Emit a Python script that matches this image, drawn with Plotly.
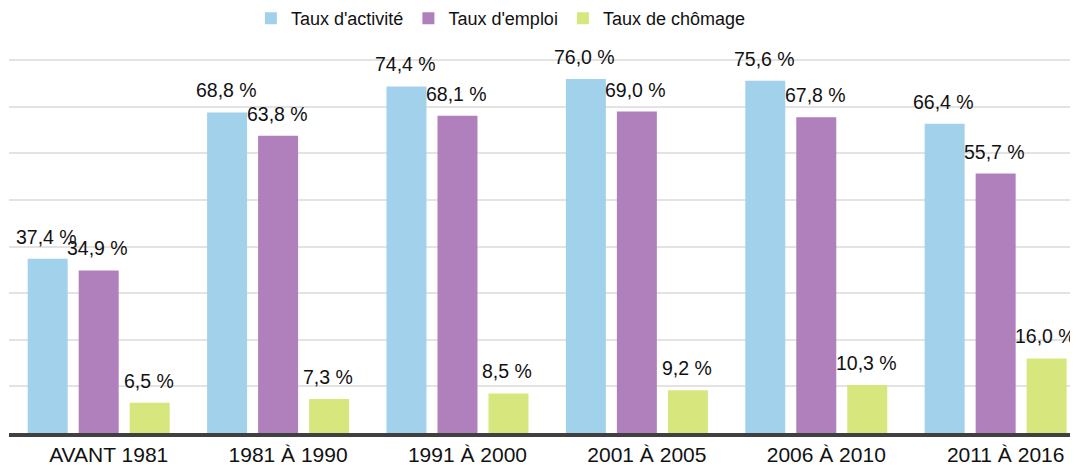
import plotly.graph_objects as go

# données
categories = ["AVANT 1981", "1981 À 1990", "1991 À 2000", "2001 À 2005", "2006 À 2010", "2011 À 2016"]
taux_activite = [37.4, 68.8, 74.4, 76.0, 75.6, 66.4]
taux_emploi = [34.9, 63.8, 68.1, 69.0, 67.8, 55.7]
taux_chomage = [6.5, 7.3, 8.5, 9.2, 10.3, 16.0]

series = [
    ("Taux d'activité", taux_activite, "#a2d1ec"),
    ("Taux d'emploi", taux_emploi, "#af80bb"),
    ("Taux de chômage", taux_chomage, "#d7e77e"),
]

fig = go.Figure()

for name, values, color in series:
    fig.add_trace(go.Bar(
        x=categories,
        y=values,
        name=name,
        marker=dict(color=color, line=dict(width=0)),
        hovertemplate="%{x}<br>" + name + " : %{y:.1f} %<extra></extra>",
    ))

# étiquettes de valeurs au-dessus des barres
for i, (name, values, color) in enumerate(series):
    for cat, v in zip(categories, values):
        fig.add_annotation(
            x=cat, y=v,
            text=f"{v:.1f} %".replace(".", ","),
            showarrow=False,
            xshift=(i - 1) * 51 - 1,
            yanchor="bottom",
            yshift=9,
            font=dict(size=19.5, color="#111111"),
        )

# la page ajoute une marge de 8 px autour du graphique
fig.update_layout(
    width=1070,
    height=462,
    margin=dict(l=1, r=0, t=29, b=37, autoexpand=False),
    barmode="group",
    bargap=0.147,
    bargroupgap=0.216,
    plot_bgcolor="white",
    paper_bgcolor="white",
    font=dict(family="Liberation Sans, Arial, sans-serif", color="#111111"),
    showlegend=True,
    legend=dict(
        orientation="h",
        xref="container", yref="paper",
        x=0.227, y=1.093,
        xanchor="left", yanchor="top",
        font=dict(size=18),
        bgcolor="rgba(0,0,0,0)",
        traceorder="normal",
    ),
    xaxis=dict(
        range=[-0.5, 5.459],
        showline=True,
        linecolor="#404040",
        linewidth=4,
        ticks="",
        tickfont=dict(size=21),
        ticklabelshift=10,
    ),
    yaxis=dict(
        range=[0, 85],
        dtick=10,
        showticklabels=False,
        showgrid=True,
        gridcolor="#e3e3e3",
        gridwidth=1.5,
        zeroline=False,
    ),
)

fig.write_html("out.html")
